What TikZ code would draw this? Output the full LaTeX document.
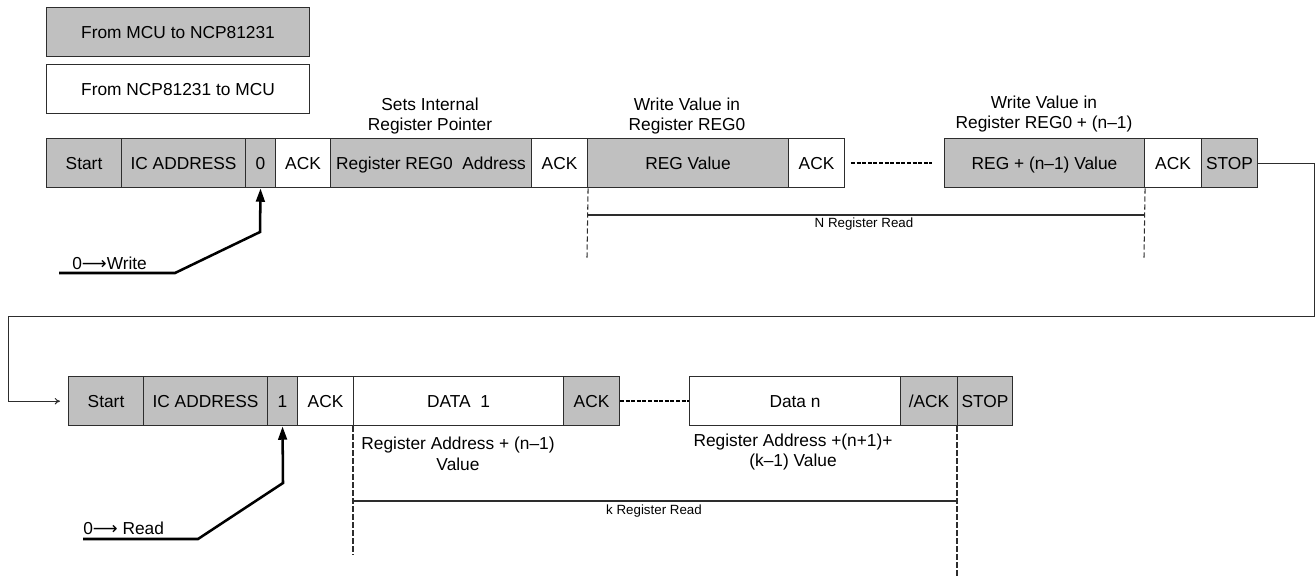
\documentclass[tikz,border=0pt]{standalone}
\usepackage{fontspec}
\setmainfont{Liberation Sans}
\newfontfamily\arrowfont{DejaVu Sans}
\usetikzlibrary{arrows.meta}
\definecolor{cellgray}{RGB}{192,192,192}
\definecolor{edgecol}{RGB}{45,45,45}
\begin{document}
\begin{tikzpicture}[x=0.75pt,y=-0.75pt,
  font=\fontsize{13}{15.5}\selectfont,
  cell/.style={draw=edgecol, line width=0.8pt, inner sep=0pt, anchor=north west, minimum height=37pt, text height=9.3pt, text depth=0pt},
  gcell/.style={cell, fill=cellgray},
  wcell/.style={cell, fill=white},
  cw/.style={minimum width=#1*0.75pt},
  lbl/.style={align=center, inner sep=0pt},
  smalltxt/.style={font=\fontsize{10}{12}\selectfont, inner sep=0pt},
  vdash/.style={edgecol, line width=0.8pt, dash pattern=on 4pt off 2pt},
  spanline/.style={edgecol, line width=0.8pt},
  dotline/.style={black, line width=1.6pt, dash pattern=on 3pt off 1.2pt},
  bitarrow/.style={black, line width=1.9pt, -{Triangle[length=10pt,width=6.5pt]}},
  wrapline/.style={edgecol, line width=0.75pt, -{To[length=4pt,width=5pt]}},
  bitlbl/.style={anchor=base west, inner sep=0pt}
]
\useasboundingbox (0,0) rectangle (1315,578);

% legend
\node[gcell,cw=263] (leg1) at (46,7) {From MCU to NCP81231};
\node[wcell,cw=263] (leg2) at (46,64) {From NCP81231 to MCU};

% row 1
\node[gcell,cw=75]  (s1)  at (46,138)   {Start};
\node[gcell,cw=124] (ic1) at (121,138)  {IC ADDRESS};
\node[gcell,cw=30]  (b0)  at (245,138)  {0};
\node[wcell,cw=55]  (a1)  at (275,138)  {ACK};
\node[gcell,cw=201] (reg) at (330,138)  {Register REG0\ \ Address};
\node[wcell,cw=56]  (a2)  at (531,138)  {ACK};
\node[gcell,cw=201] (rv)  at (587,138)  {REG Value};
\node[wcell,cw=56]  (a3)  at (788,138)  {ACK};
\node[gcell,cw=200] (rvn) at (944,138)  {REG + (n--1) Value};
\node[wcell,cw=57]  (a4)  at (1144,138) {ACK};
\node[gcell,cw=56]  (st1) at (1201,138) {STOP};

\node[lbl] (t1) at (430,116)  {Sets Internal\\Register Pointer};
\node[lbl] (t2) at (687,116)  {Write Value in\\Register REG0};
\node[lbl] (t3) at (1044,114) {Write Value in\\Register REG0 + (n--1)};

\draw[dotline] ([xshift=4.5pt]a3.east) -- ([xshift=-9pt]rvn.west);

\coordinate (n0) at (587,258);
\coordinate (n1) at (1144,258);
\coordinate (nl) at (587,215);
\coordinate (nr) at (1144,215);
\draw[vdash] (a2.south east) -- (n0);
\draw[vdash] (rvn.south east) -- (n1);
\draw[spanline] (nl) -- (nr);
\node[smalltxt] (nlab) at (864,224) {N Register Read};

% write bit arrow
\coordinate (wA) at (59,273);
\coordinate (wB) at (175,273);
\coordinate (wC) at (260,232);
\draw[bitarrow] (wA) -- (wB) -- (wC) -- (b0.south);
\node[bitlbl] (wt) at (72,269) {0{\arrowfont ⟶}Write};

% row 2
\node[gcell,cw=75]  (s2)   at (68,376)  {Start};
\node[gcell,cw=124] (ic2)  at (143,376) {IC ADDRESS};
\node[gcell,cw=30]  (b1)   at (267,376) {1};
\node[wcell,cw=56]  (a5)   at (297,376) {ACK};
\node[wcell,cw=210] (d1)   at (353,376) {DATA\ \ 1};
\node[gcell,cw=56]  (a6)   at (563,376) {ACK};
\node[wcell,cw=211] (dn)   at (689,376) {Data n};
\node[gcell,cw=57]  (nack) at (900,376) {/ACK};
\node[gcell,cw=55]  (st2)  at (957,376) {STOP};

\draw[dotline] (a6.east) -- (dn.west);

\node[lbl] (t4) at (458,454) {Register Address + (n--1)\\Value};
\node[lbl] (t5) at (793,452) {Register Address +(n+1)+\\(k--1) Value};

\coordinate (k0) at (353,555);
\coordinate (k1) at (957,578);
\coordinate (kl) at (353,501);
\coordinate (kr) at (957,501);
\draw[vdash] (d1.south west) -- (k0);
\draw[vdash] (st2.south west) -- (k1);
\draw[spanline] (kl) -- (kr);
\node[smalltxt] (klab) at (654,511) {k Register Read};

% read bit arrow
\coordinate (rA) at (83,539);
\coordinate (rB) at (198,539);
\coordinate (rC) at (283,483);
\draw[bitarrow] (rA) -- (rB) -- (rC) -- (b1.south);
\node[bitlbl] (rt) at (83,534) {0{\arrowfont ⟶}\ Read};

% wrap connector
\coordinate (wr1) at (1314,316);
\coordinate (wr2) at (8,316);
\draw[wrapline] (st1.east) -| (wr1) -- (wr2) |- ([xshift=-6pt]s2.west);
\end{tikzpicture}
\end{document}
